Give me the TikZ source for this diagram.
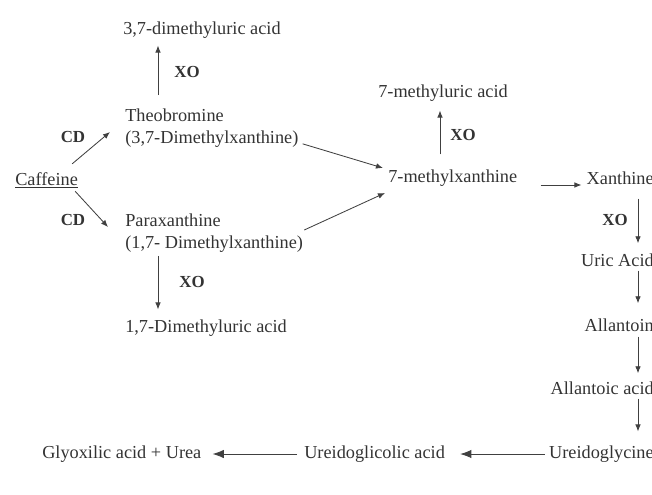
\documentclass[tikz,border=0pt]{standalone}
\usepackage{fontspec}
\setmainfont{Liberation Serif}
\usetikzlibrary{arrows.meta}

\begin{document}
\begin{tikzpicture}[x=0.025cm,y=-0.025cm,
    met/.style={inner sep=0pt,font=\fontsize{13}{16}\selectfont,text=black!80},
    enz/.style={inner sep=0pt,font=\fontsize{12}{14}\selectfont\bfseries,text=black!80},
    conv/.style={draw=black!75,line width=0.6pt,-{Latex[length=5pt,width=4pt]}},
    convbig/.style={draw=black!75,line width=0.6pt,-{Latex[length=8pt,width=6pt]}}]
    \useasboundingbox (0,0) rectangle (652,494);
    \clip (0,0) rectangle (652,494);
    %\draw[gray!30] (0,0) grid[step=50] (652,494);
    % metabolites
    \node[met,anchor=base west] (caf) at (15,185) {\underline{Caffeine}};
    \node[met,anchor=west,align=left] (theo) at (125,128) {Theobromine\\(3,7-Dimethylxanthine)};
    \node[met,anchor=west,align=left] (para) at (125,233) {Paraxanthine\\(1,7- Dimethylxanthine)};
    \node[met,anchor=west] (dmu37) at (123,30) {3,7-dimethyluric acid};
    \node[met,anchor=west] (dmu17) at (125,328) {1,7-Dimethyluric acid};
    \node[met,anchor=west] (mx) at (388,178) {7-methylxanthine};
    \node[met,anchor=west] (mu) at (378,93) {7-methyluric acid};
    \node[met,anchor=east] (xan) at (654,178) {Xanthine};
    \node[met,anchor=east] (uric) at (654,260) {Uric Acid};
    \node[met,anchor=east] (allan) at (654,325) {Allantoin};
    \node[met,anchor=east] (allac) at (654,388) {Allantoic acid};
    \node[met,anchor=east] (ugly) at (654,454) {Ureidoglycine};
    \node[met,anchor=west] (ugli) at (304,454) {Ureidoglicolic acid};
    \node[met,anchor=west] (glyox) at (42,454) {Glyoxilic acid + Urea};
    % enzymes
    \node[enz] (cd1) at (73,137) {CD};
    \node[enz] (cd2) at (73,220) {CD};
    \node[enz] (xo1) at (187,72) {XO};
    \node[enz] (xo2) at (192,282) {XO};
    \node[enz] (xo3) at (463,135) {XO};
    \node[enz] (xo4) at (615,220) {XO};
    % reactions
    \draw[conv] ([shift={(-6,-8)}]caf.north east) -- ([shift={(-15,4)}]theo.west);
    \draw[conv] ([shift={(-3,3)}]caf.south east) -- ([shift={(-17,-6)}]para.west);
    \draw[conv] ([shift={(33,-13)}]theo.north west) -- ([shift={(35,7)}]dmu37.south west);
    \draw[conv] ([shift={(33,3)}]para.south west) -- ([shift={(33,-10)}]dmu17.north west);
    \draw[conv] ([shift={(4,-4)}]theo.south east) -- ([shift={(-5,-10)}]mx.west);
    \draw[conv] ([shift={(1,-3)}]para.east) -- ([shift={(-3,15)}]mx.west);
    \draw[conv] ([shift={(52,-15)}]mx.north west) -- ([shift={(62,9)}]mu.south west);
    \draw[conv] ([shift={(23,7)}]mx.east) -- ([shift={(-5,7)}]xan.west);
    \draw[conv] ([shift={(-16,14)}]xan.south east) -- ([shift={(-16,-10)}]uric.north east);
    \draw[conv] ([shift={(-16,4)}]uric.south east) -- ([shift={(-16,-15)}]allan.north east);
    \draw[conv] ([shift={(-16,5)}]allan.south east) -- ([shift={(-16,-8)}]allac.north east);
    \draw[conv] ([shift={(-16,4)}]allac.south east) -- ([shift={(-16,-14)}]ugly.north east);
    \draw[convbig] ([shift={(-4,0)}]ugly.west) -- ([shift={(15,0)}]ugli.east);
    \draw[convbig] ([shift={(-7,0)}]ugli.west) -- ([shift={(11,0)}]glyox.east);
\end{tikzpicture}
\end{document}
